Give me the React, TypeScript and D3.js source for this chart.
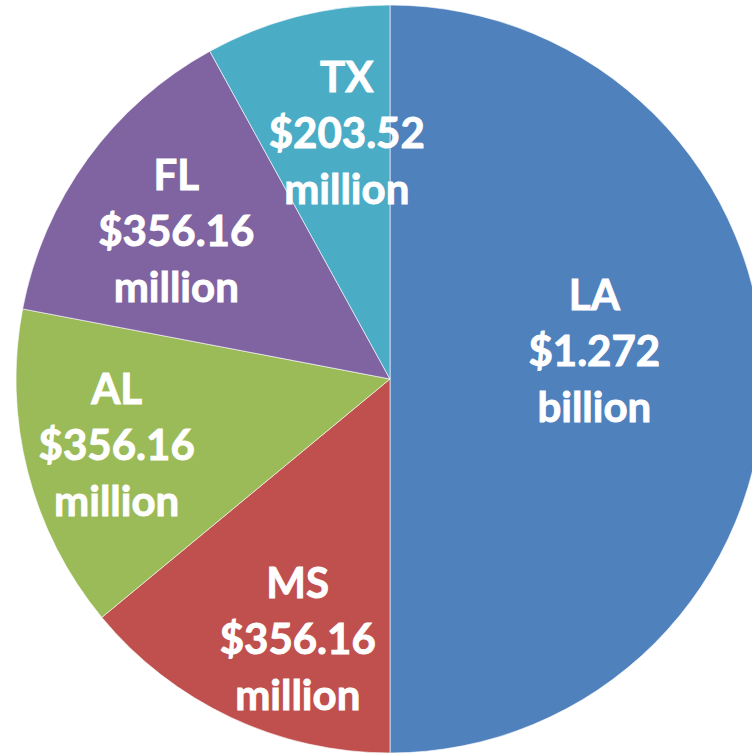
import React from "react";
import * as d3 from "d3";

const states = ["LA", "MS", "AL", "FL", "TX"];
const values = [1272, 356.16, 356.16, 356.16, 203.52];
const amountLabels = ["$1.272", "$356.16", "$356.16", "$356.16", "$203.52"];
const unitLabels = ["billion", "million", "million", "million", "million"];
const colors = ["#4F81BD", "#C0504D", "#9BBB59", "#8064A2", "#4BACC6"];
// label nudges relative to arc centroid (style/layout)
const labelNudges: [number, number][] = [
  [-50, -29],
  [16, 29],
  [-27, 2],
  [-8, 0],
  [20, -1],
];

export default function App() {
  const W = 752;
  const H = 753;
  const cx = 382;
  const cy = 371;
  const r = 374;
  const data = states.map((s, i) => ({ s, v: values[i], i }));
  const pie = d3
    .pie<any>()
    .value((d) => d.v)
    .sort(null)
    .startAngle(0)
    .endAngle(2 * Math.PI);
  const arcs = pie(data);
  const arc = d3.arc<any>().innerRadius(0).outerRadius(r);
  const labelArc = d3.arc<any>().innerRadius(r * 0.68).outerRadius(r * 0.68);
  const lh = 56;
  return (
    <svg width={W} height={H} style={{ display: "block", position: "absolute", left: 0, top: 0 }}>
      <rect width={W} height={H} fill="#ffffff" />
      <g transform={`translate(${cx + 8},${cy + 8})`}>
        {arcs.map((a, i) => (
          <path key={i} d={arc(a) || ""} fill={colors[i]} stroke="#ffffff" strokeOpacity={0.6} strokeWidth={1} />
        ))}
        {arcs.map((a, i) => {
          const [x, y] = labelArc.centroid(a);
          const lx = x + labelNudges[i][0];
          const ly = y + labelNudges[i][1];
          const lines = [states[i], amountLabels[i], unitLabels[i]];
          return (
            <text
              key={"t" + i}
              x={lx}
              y={ly}
              textAnchor="middle"
              fill="#ffffff"
              stroke="#ffffff"
              strokeWidth={0.9}
              fontFamily="Lato, 'Open Sans', sans-serif"
              fontWeight={700}
              fontSize={42}
            >
              {lines.map((t, k) => (
                <tspan key={k} x={lx} y={ly + (k - 1) * lh} dominantBaseline="central">
                  {t}
                </tspan>
              ))}
            </text>
          );
        })}
      </g>
    </svg>
  );
}
